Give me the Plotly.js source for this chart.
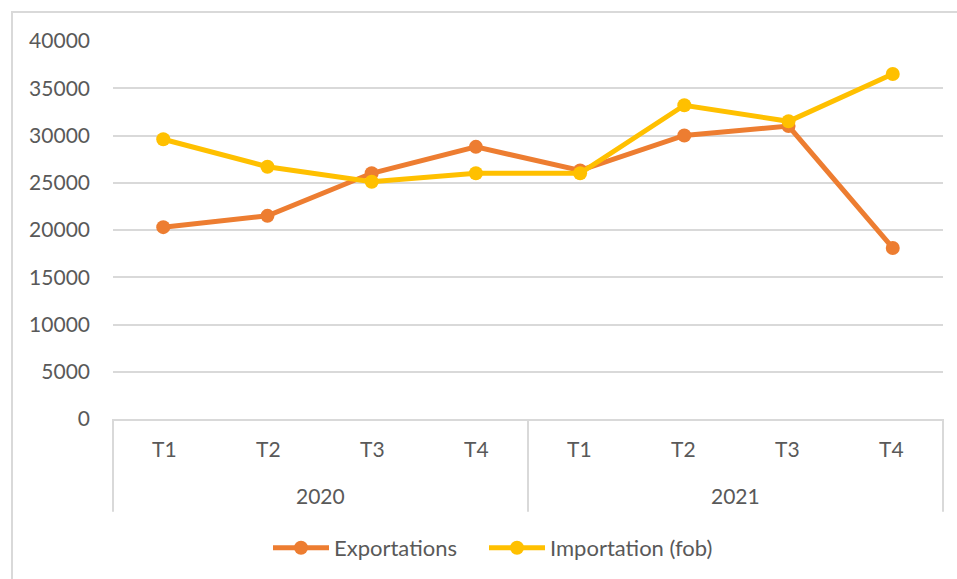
<!DOCTYPE html>
<html>
<head>
<meta charset="utf-8">
<script src="https://cdn.plot.ly/plotly-3.0.1.min.js"></script>
<style>
  html, body { margin: 0; padding: 0; background: #fff; }
  #chart { width: 957px; height: 579px; }
</style>
</head>
<body>
<div id="chart"></div>
<script>
const years = ['2020', '2020', '2020', '2020', '2021', '2021', '2021', '2021'];
const quarters = ['T1', 'T2', 'T3', 'T4', 'T1', 'T2', 'T3', 'T4'];
const exportations = [20300, 21500, 26000, 28800, 26300, 30000, 31000, 18100];
const importations = [29600, 26700, 25100, 26000, 26000, 33200, 31500, 36500];

const fontFam = 'Lato, "Open Sans", sans-serif';
const textCol = '#595959';
const gridCol = '#D9D9D9';
const fs = 21;

const traces = [
  {
    type: 'scatter', mode: 'lines+markers', name: 'Exportations',
    x: [years, quarters], y: exportations, legend: 'legend',
    line: { color: '#ED7D31', width: 5 },
    marker: { color: '#ED7D31', size: 14 }
  },
  {
    type: 'scatter', mode: 'lines+markers', name: 'Importation (fob)',
    x: [years, quarters], y: importations, legend: 'legend2',
    line: { color: '#FFC000', width: 5 },
    marker: { color: '#FFC000', size: 14 }
  }
];

const plotH = 379;
const plotW = 830;
const n = quarters.length;
const annotations = [];
quarters.forEach((q, i) => {
  annotations.push({
    xref: 'paper', yref: 'paper', x: (i + 0.5) / n, y: -30 / plotH,
    text: q, showarrow: false, xanchor: 'center', yanchor: 'middle',
    font: { family: fontFam, size: fs, color: textCol }
  });
});
const uniqYears = [...new Set(years)];
uniqYears.forEach((yr) => {
  const idx = years.map((v, i) => v === yr ? i : -1).filter(i => i >= 0);
  const cx = (idx[0] + idx[idx.length - 1] + 1) / 2 / n;
  annotations.push({
    xref: 'paper', yref: 'paper', x: cx, y: -77 / plotH,
    text: yr, showarrow: false, xanchor: 'center', yanchor: 'middle',
    font: { family: fontFam, size: fs, color: textCol }
  });
});

const shapes = [
  {
    type: 'rect', xref: 'paper', yref: 'paper',
    x0: -101 / plotW, x1: 1 + 20 / plotW, y0: -170 / plotH, y1: 1 + 29 / plotH,
    line: { color: gridCol, width: 2 }, fillcolor: 'rgba(0,0,0,0)', layer: 'below'
  }
];
[0, 0.5, 1].forEach((xv) => {
  shapes.push({
    type: 'line', xref: 'paper', yref: 'paper',
    x0: xv, x1: xv, y0: 0, y1: -93 / plotH,
    line: { color: gridCol, width: 2 }
  });
});

const legendBase = {
  orientation: 'h', xanchor: 'left', y: -128 / plotH, yanchor: 'middle',
  font: { family: fontFam, size: 22, color: textCol },
  itemwidth: 56, bgcolor: 'rgba(0,0,0,0)'
};

const layout = {
  width: 957, height: 579,
  margin: { l: 113, r: 14, t: 41, b: 159 },
  paper_bgcolor: '#fff', plot_bgcolor: '#fff',
  font: { family: fontFam, size: fs, color: textCol },
  showlegend: true,
  legend: Object.assign({}, legendBase, { x: (273 - 113 - 5) / plotW }),
  legend2: Object.assign({}, legendBase, { x: (489 - 113 - 5) / plotW }),
  xaxis: {
    type: 'multicategory',
    showline: true, linecolor: gridCol, linewidth: 2,
    showgrid: false, zeroline: false,
    ticks: '', showticklabels: false, showdividers: false
  },
  yaxis: {
    range: [0, 40000], dtick: 5000, tick0: 0, tickformat: 'd',
    showgrid: true, gridcolor: gridCol, gridwidth: 2,
    zeroline: false, showline: false, ticks: '',
    ticklabelstandoff: 22,
    tickfont: { family: fontFam, size: fs, color: textCol }
  },
  shapes: shapes,
  annotations: annotations,
  hovermode: false
};

Plotly.newPlot('chart', traces, layout, { displayModeBar: false, staticPlot: true });
</script>
</body>
</html>
